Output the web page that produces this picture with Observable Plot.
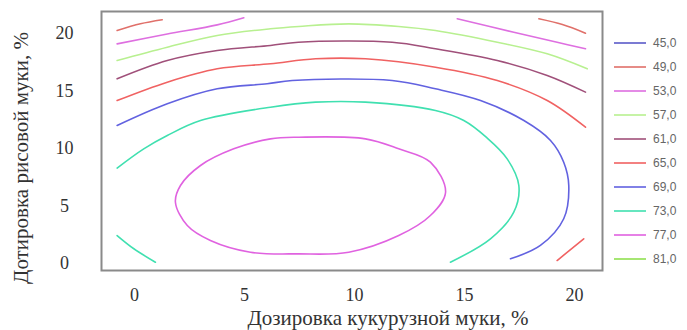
<!DOCTYPE html>
<html><head><meta charset="utf-8">
<script src="https://cdn.jsdelivr.net/npm/d3@7"></script>
<script src="https://cdn.jsdelivr.net/npm/@observablehq/plot@0.6"></script>
<style>
body{margin:0;background:#fff}
#wrap{position:relative;width:687px;height:330px}
.leg{position:absolute;left:614px;display:flex;align-items:center;font:12px "Liberation Sans";color:#666;height:16px}
.leg svg{margin-right:7px}
</style></head>
<body><div id="wrap"></div>
<script>
// contour levels and colours (legend)
const levels = [45, 49, 53, 57, 61, 65, 69, 73, 77, 81];
const legendLabels = ["45,0","49,0","53,0","57,0","61,0","65,0","69,0","73,0","77,0","81,0"];
const levelColors = ["#5a5ac8","#e0706a","#de6fe0","#b8f090","#a0507a","#f06262","#6262e0","#40e0b0","#e062e0","#90e050"];
const xTicks = [0, 5, 10, 15, 20];
const yTicks = [0, 5, 10, 15, 20];
const xLabel = "Дозировка кукурузной муки, %";
const yLabel = "Дотировка рисовой муки, %";

const line49a = [[-0.79,20.26],[0.27,20.84],[1.26,21.19]];
const line49b = [[18.38,21.28],[19.45,20.78],[20.5,20.03]];
const line53a = [[-0.79,19.10],[1.49,19.95],[3.76,20.75],[4.97,21.37]];
const line53b = [[14.67,21.28],[17.24,20.11],[19.21,19.24],[20.5,18.67]];
const line57 = [[-0.79,17.65],[1.49,18.81],[3.76,19.83],[6.18,20.41],[7.47,20.61],[9.74,20.84],[12.01,20.61],[13.68,20.26],[16.49,19.24],[18.76,18.23],[20.58,16.93]];
const line61 = [[-0.79,16.06],[1.49,17.65],[3.76,18.52],[6.18,18.96],[7.45,19.24],[11.71,19.24],[13.68,18.67],[16.49,17.65],[18.76,16.35],[20.5,14.90]];
const line65 = [[-0.79,14.17],[1.49,15.77],[3.76,16.93],[6.18,17.37],[8.23,17.80],[10.5,17.80],[13.68,17.07],[16.49,15.91],[18.76,14.17],[20.5,11.85]];
const line65b = [[20.42,2.15],[19.21,0.26]];
const line69 = [[-0.79,12.0],[1.49,13.89],[3.76,15.19],[6.03,15.63],[7.17,15.91],[11.71,15.91],[13.68,15.19],[15.73,14.17],[17.7,12.43],[18.91,10.70],[19.51,8.81],[19.74,6.78],[19.51,3.89],[18.45,1.57],[17.09,0.41]];
const line73 = [[-0.79,8.3],[0.42,9.97],[1.49,11.13],[3.0,12.43],[6.18,13.59],[8.23,14.03],[10.5,14.03],[13.68,13.30],[14.97,12.43],[16.0,10.96],[16.94,9.10],[17.47,6.78],[17.24,4.46],[16.18,2.15],[14.36,0.11]];
const line73b = [[-0.79,2.43],[-0.03,1.28],[0.95,0.11]];
const ellipse77 = [[1.86,5.33],[2.09,6.78],[3.0,8.52],[4.51,9.97],[6.18,10.84],[7.47,10.98],[10.5,10.84],[12.01,9.97],[13.45,8.81],[14.14,6.20],[13.45,4.17],[12.01,2.43],[9.74,0.98],[7.47,0.84],[5.27,0.98],[3.45,2.0],[2.40,3.30]];

const openLines = [
  {level:49, pts:line49a},{level:49, pts:line49b},
  {level:53, pts:line53a},{level:53, pts:line53b},
  {level:57, pts:line57},{level:61, pts:line61},
  {level:65, pts:line65},{level:65, pts:line65b},
  {level:69, pts:line69},{level:73, pts:line73},{level:73, pts:line73b}
];
const openRows = openLines.flatMap((c, i) => c.pts.map(([x, y]) => ({x, y, level: c.level, id: i})));
const closedRows = ellipse77.map(([x, y]) => ({x, y, level: 77}));

const chart = Plot.plot({
  width: 687, height: 330,
  marginTop: 11, marginRight: 85, marginBottom: 60, marginLeft: 101,
  x: {domain: [-1.5, 21.273]},
  y: {domain: [-0.609, 21.913]},
  color: {type: "ordinal", domain: levels, range: levelColors},
  style: {fontFamily: "Liberation Serif", background: "white"},
  marks: [
    Plot.line(openRows, {x: "x", y: "y", z: "id", stroke: "level", strokeWidth: 1.6, curve: "catmull-rom"}),
    Plot.line(closedRows, {x: "x", y: "y", stroke: "level", strokeWidth: 1.6, curve: "catmull-rom-closed"}),
    Plot.frame({stroke: "#8a8a8a", strokeWidth: 2}),
    Plot.axisX({ticks: xTicks, tickSize: 0, tickPadding: 18, fontSize: 18, fill: "#333", label: null}),
    Plot.axisY({ticks: yTicks, tickSize: 0, tickPadding: 37, textAnchor: "middle", fontSize: 18, fill: "#333", label: null}),
    Plot.text([xLabel], {text: d => d, frameAnchor: "bottom-left", dx: 146, dy: 48, textAnchor: "start", lineAnchor: "middle", fontSize: 21, fill: "#333"}),
    Plot.text([yLabel], {text: d => d, frameAnchor: "left", dx: -80, dy: 17, rotate: -90, textAnchor: "middle", lineAnchor: "middle", fontSize: 21, fill: "#333"})
  ]
});
const wrap = document.getElementById("wrap");
wrap.appendChild(chart);

levels.forEach((lv, i) => {
  const row = document.createElement("div");
  row.className = "leg";
  row.style.top = (43 + 24 * i - 8) + "px";
  row.innerHTML = `<svg width="32" height="4"><line x1="0" y1="2" x2="32" y2="2" stroke="${levelColors[i]}" stroke-width="1.6"/></svg><span>${legendLabels[i]}</span>`;
  wrap.appendChild(row);
});
</script>
</body></html>
